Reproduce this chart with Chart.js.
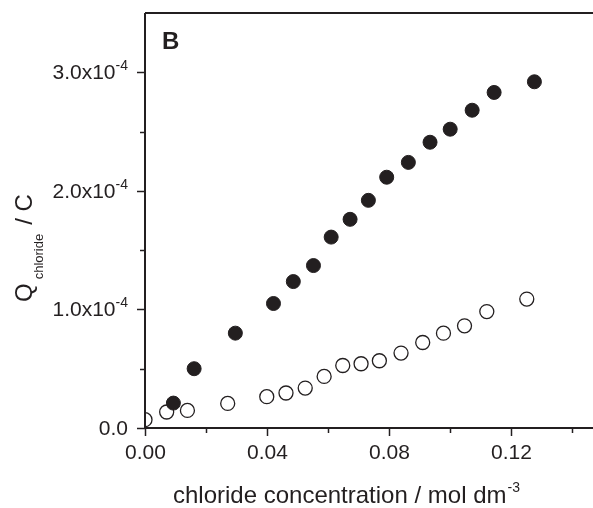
<!DOCTYPE html>
<html>
<head>
<meta charset="utf-8">
<script src="https://cdn.jsdelivr.net/npm/chart.js@4"></script>
<style>
  body { margin: 0; background: #fff; }
  #wrap { width: 593px; height: 508px; }
</style>
</head>
<body>
<div id="wrap"><canvas id="myChart" width="593" height="508"></canvas></div>
<script>
// valeurs (concentration en mol dm-3, charge en C)
const filledX = [0.0093, 0.0161, 0.0296, 0.0421, 0.0486, 0.0552, 0.0610, 0.0672, 0.0732, 0.0792, 0.0863, 0.0934, 0.1000, 0.1072, 0.1144, 0.1276];
const filledY = [0.21e-4, 0.50e-4, 0.80e-4, 1.05e-4, 1.235e-4, 1.37e-4, 1.61e-4, 1.76e-4, 1.92e-4, 2.115e-4, 2.24e-4, 2.41e-4, 2.52e-4, 2.68e-4, 2.83e-4, 2.92e-4];
const openX = [0.0, 0.0071, 0.0139, 0.0271, 0.0399, 0.0462, 0.0525, 0.0587, 0.0648, 0.0708, 0.0768, 0.0839, 0.0910, 0.0978, 0.1047, 0.1120, 0.1251];
const openY = [0.07e-4, 0.135e-4, 0.148e-4, 0.207e-4, 0.264e-4, 0.295e-4, 0.337e-4, 0.435e-4, 0.527e-4, 0.542e-4, 0.567e-4, 0.632e-4, 0.721e-4, 0.800e-4, 0.862e-4, 0.982e-4, 1.087e-4];

const xTickValues = [0, 0.02, 0.04, 0.06, 0.08, 0.10, 0.12, 0.14];
const xTickLabels = ['0.00', '', '0.04', '', '0.08', '', '0.12', ''];
const yTickValues = [0, 0.5e-4, 1e-4, 1.5e-4, 2e-4, 2.5e-4, 3e-4];
const yTickMain = ['0.0', '', '1.0x10', '', '2.0x10', '', '3.0x10'];
const yTickSup = ['', '', '-4', '', '-4', '', '-4'];

const ink = '#231f20';
const fontName = '"Liberation Sans", Arial, sans-serif';

function toPoints(xs, ys) {
    return xs.map((x, i) => ({ x: x, y: ys[i] }));
}

// axes, graduations et titres dessinés à la main (exposants / indices)
const axesPlugin = {
    id: 'axesPlugin',
    afterDatasetsDraw(chart) {
        const ctx = chart.ctx;
        const a = chart.chartArea;
        const xs = chart.scales.x, ys = chart.scales.y;
        ctx.save();
        ctx.strokeStyle = ink;
        ctx.lineWidth = 2;
        ctx.beginPath();
        ctx.moveTo(a.left, a.top); ctx.lineTo(a.right, a.top);
        ctx.moveTo(a.left, a.top); ctx.lineTo(a.left, a.bottom);
        ctx.moveTo(a.left - 1, a.bottom); ctx.lineTo(a.right, a.bottom);
        ctx.stroke();

        ctx.lineWidth = 1.5;
        ctx.fillStyle = ink;
        // graduations x
        ctx.font = '21px ' + fontName;
        ctx.textAlign = 'center';
        ctx.textBaseline = 'middle';
        xTickValues.forEach((v, i) => {
            const px = Math.round(xs.getPixelForValue(v)) + 0.5;
            const len = xTickLabels[i] ? 8 : 5;
            ctx.beginPath();
            ctx.moveTo(px, a.bottom); ctx.lineTo(px, a.bottom + len);
            ctx.stroke();
            if (xTickLabels[i]) ctx.fillText(xTickLabels[i], px, a.bottom + 25);
        });
        // graduations y
        yTickValues.forEach((v, i) => {
            const py = Math.round(ys.getPixelForValue(v)) + 0.5;
            const len = yTickMain[i] ? 8 : 5;
            ctx.beginPath();
            ctx.moveTo(a.left - len, py); ctx.lineTo(a.left, py);
            ctx.stroke();
            if (!yTickMain[i]) return;
            const right = a.left - 17;
            ctx.textAlign = 'left';
            ctx.font = '14px ' + fontName;
            const sw = yTickSup[i] ? ctx.measureText(yTickSup[i]).width : 0;
            ctx.font = '21px ' + fontName;
            const mw = ctx.measureText(yTickMain[i]).width;
            ctx.textBaseline = 'middle';
            ctx.fillText(yTickMain[i], right - sw - mw, py + 1);
            if (sw) {
                ctx.font = '14px ' + fontName;
                ctx.textBaseline = 'alphabetic';
                ctx.fillText(yTickSup[i], right - sw, py - 3);
            }
        });

        // titre x
        ctx.textAlign = 'left';
        ctx.textBaseline = 'alphabetic';
        ctx.font = '24px ' + fontName;
        const xt = 'chloride concentration / mol dm';
        const x0 = a.left + 28;
        ctx.fillText(xt, x0, 503);
        const w = ctx.measureText(xt).width;
        ctx.font = '14px ' + fontName;
        ctx.fillText('-3', x0 + w + 1, 492);

        // titre y (tourné)
        ctx.translate(32, 302);
        ctx.rotate(-Math.PI / 2);
        ctx.font = '24px ' + fontName;
        ctx.fillText('Q', 0, 0);
        let cx = ctx.measureText('Q').width + 4;
        ctx.font = '13px ' + fontName;
        ctx.fillText('chloride', cx, 11);
        cx += ctx.measureText('chloride').width + 4;
        ctx.font = '24px ' + fontName;
        ctx.fillText('/ C', cx + 5, 0);
        ctx.restore();

        // lettre du panneau
        ctx.save();
        ctx.fillStyle = ink;
        ctx.font = 'bold 24px ' + fontName;
        ctx.textBaseline = 'middle';
        ctx.fillText('B', a.left + 17, 42);
        ctx.restore();
    }
};

const ctx = document.getElementById('myChart').getContext('2d');
new Chart(ctx, {
    type: 'scatter',
    data: {
        datasets: [
            {
                label: 'fermé',
                data: toPoints(filledX, filledY),
                backgroundColor: ink,
                borderColor: ink,
                borderWidth: 1,
                pointRadius: 7,
                clip: 0
            },
            {
                label: 'ouvert',
                data: toPoints(openX, openY),
                backgroundColor: 'rgba(0,0,0,0)',
                borderColor: ink,
                borderWidth: 1.3,
                pointRadius: 7,
                clip: 0
            }
        ]
    },
    options: {
        responsive: false,
        animation: false,
        layout: { autoPadding: false, padding: { top: 13, left: 0, right: 0, bottom: 0 } },
        plugins: {
            legend: { display: false },
            tooltip: { enabled: false }
        },
        scales: {
            x: {
                type: 'linear',
                min: 0,
                max: 0.1468,
                ticks: { display: false },
                grid: { display: false },
                border: { display: false },
                afterFit: s => { s.height = 80; }
            },
            y: {
                type: 'linear',
                min: 0,
                max: 3.5e-4,
                ticks: { display: false },
                grid: { display: false },
                border: { display: false },
                afterFit: s => { s.width = 145; }
            }
        }
    },
    plugins: [axesPlugin]
});
</script>
</body>
</html>
